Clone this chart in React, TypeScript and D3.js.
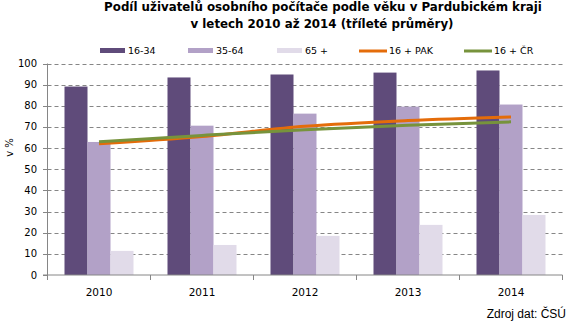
import React, { useLayoutEffect, useRef, useState } from "react";
import * as d3 from "d3";

const categories = ["2010", "2011", "2012", "2013", "2014"];
const age1634 = [89.1, 93.4, 94.8, 95.7, 96.7];
const age3564 = [62.9, 70.6, 76.3, 79.6, 80.6];
const age65 = [11.4, 14.2, 18.5, 23.7, 28.4];
const pak = [62.0, 65.5, 70.3, 73.0, 74.7];
const cr = [63.0, 66.0, 68.7, 70.8, 72.4];
const yTicks = [0, 10, 20, 30, 40, 50, 60, 70, 80, 90, 100];

const barSeries = [
  { name: "16-34", values: age1634, color: "#5F4B7A" },
  { name: "35-64", values: age3564, color: "#B2A1C7" },
  { name: "65 +", values: age65, color: "#E1DBE9" },
];
const lineSeries = [
  { name: "16 + PAK", values: pak, color: "#E46C0A" },
  { name: "16 + ČR", values: cr, color: "#77933C" },
];

export default function App() {
  const W = 571, H = 324;
  const left = 47.5, right = 562.5, top = 63.5, bottom = 275;
  const x = d3.scaleBand<string>().domain(categories).range([left, right]).paddingInner(0).paddingOuter(0);
  const y = d3.scaleLinear().domain([0, 100]).range([bottom, top]);
  const bw = 23;
  const groupW = bw * 3;
  const font = "'DejaVu Sans', Verdana, sans-serif";
  const line = d3
    .line<number>()
    .x((_, i) => (x(categories[i]) as number) + x.bandwidth() / 2)
    .y((v) => y(v))
    .curve(d3.curveMonotoneX);

  const t1 = useRef<SVGTextElement>(null);
  const [titleSize, setTitleSize] = useState(11);
  useLayoutEffect(() => {
    if (t1.current) {
      const len = t1.current.getComputedTextLength();
      if (len > 0) setTitleSize((11 * 438) / len);
    }
  }, []);

  const legendRects = [100, 188, 277];
  const legendLines = [359, 464];
  const legendY = 50.5;

  return (
    <svg width={W} height={H} style={{ position: "absolute", left: 0, top: 0, background: "#fff" }}>
      <text ref={t1} x={323} y={11} textAnchor="middle" fontFamily={font} fontWeight="bold" fontSize={titleSize === 11 ? 11 : titleSize} fill="#000">
        Podíl uživatelů osobního počítače podle věku v Pardubickém kraji
      </text>
      <text x={322} y={27.5} textAnchor="middle" fontFamily={font} fontWeight="bold" fontSize={titleSize} fill="#000">
        v letech 2010 až 2014 (tříleté průměry)
      </text>

      {barSeries.map((s, i) => (
        <g key={s.name}>
          <rect x={legendRects[i]} y={48} width={25} height={5} fill={s.color} />
          <text x={legendRects[i] + 28} y={legendY} dominantBaseline="central" fontFamily={font} fontSize={9.5} fill="#000">
            {s.name}
          </text>
        </g>
      ))}
      {lineSeries.map((s, i) => (
        <g key={s.name}>
          <line x1={legendLines[i]} x2={legendLines[i] + 28} y1={51} y2={51} stroke={s.color} strokeWidth={3} />
          <text x={legendLines[i] + 30} y={legendY} dominantBaseline="central" fontFamily={font} fontSize={9.5} fill="#000">
            {s.name}
          </text>
        </g>
      ))}

      {yTicks.filter((t) => t > 0).map((t) => (
        <line key={"g" + t} x1={left} x2={right} y1={Math.round(y(t)) + 0.5} y2={Math.round(y(t)) + 0.5} stroke="#868686" strokeWidth={1} strokeDasharray="4,3" />
      ))}

      {barSeries.map((s, si) =>
        s.values.map((v, ci) => {
          const cx = (x(categories[ci]) as number) + x.bandwidth() / 2;
          const bx = cx - groupW / 2 + si * bw;
          return <rect key={s.name + ci} x={bx} y={y(v)} width={bw} height={bottom - y(v)} fill={s.color} />;
        })
      )}

      {lineSeries.map((s) => (
        <path key={s.name} d={line(s.values) || ""} fill="none" stroke={s.color} strokeWidth={3} strokeLinecap="butt" />
      ))}

      <line x1={left} x2={left} y1={top} y2={bottom} stroke="#868686" />
      <line x1={left - 4.5} x2={right} y1={bottom} y2={bottom} stroke="#868686" />
      {yTicks.map((t) => (
        <g key={"t" + t}>
          <line x1={left - 4.5} x2={left} y1={Math.round(y(t)) + 0.5} y2={Math.round(y(t)) + 0.5} stroke="#868686" />
          <text x={37} y={y(t)} textAnchor="end" dominantBaseline="central" fontFamily={font} fontSize={10} fill="#000">
            {t}
          </text>
        </g>
      ))}
      {categories.map((c, i) => (
        <line key={"xt" + i} x1={(x(c) as number) + x.bandwidth()} x2={(x(c) as number) + x.bandwidth()} y1={bottom} y2={bottom + 5} stroke="#868686" />
      ))}
      <line x1={left} x2={left} y1={bottom} y2={bottom + 5} stroke="#868686" />
      {categories.map((c) => (
        <text key={"xl" + c} x={(x(c) as number) + x.bandwidth() / 2} y={296} textAnchor="middle" fontFamily={font} fontSize={10.5} fill="#000">
          {c}
        </text>
      ))}
      <text transform="translate(13,147.5) rotate(-90)" textAnchor="middle" fontFamily={font} fontSize={10} fill="#000">
        v %
      </text>
      <text x={566} y={318} textAnchor="end" fontFamily="'Liberation Sans', Arial, sans-serif" fontSize={12} fill="#000">
        Zdroj dat: ČSÚ
      </text>
    </svg>
  );
}
